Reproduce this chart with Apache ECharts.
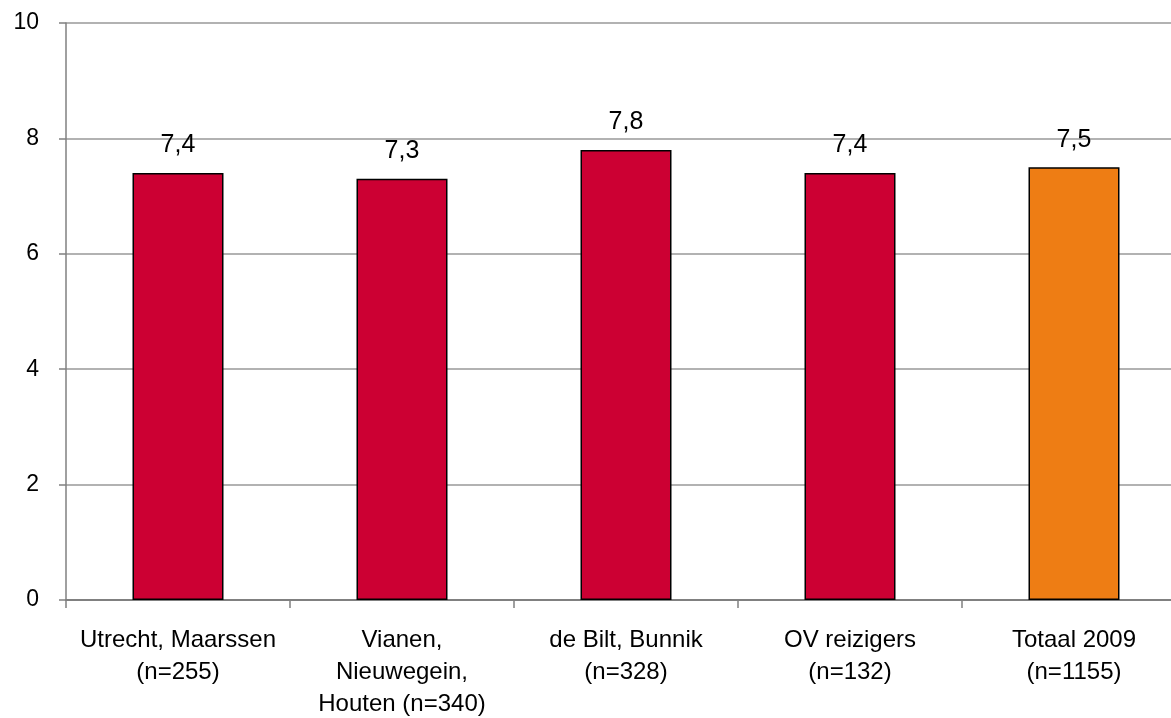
<!DOCTYPE html>
<html><head><meta charset="utf-8">
<script src="https://cdn.jsdelivr.net/npm/echarts@6/dist/echarts.min.js"></script>
<style>html,body{margin:0;padding:0;background:#fff}#c{width:1171px;height:718px}</style>
</head><body><div id="c"></div>
<script>
const categories = ["Utrecht, Maarssen\n(n=255)", "Vianen,\nNieuwegein,\nHouten (n=340)", "de Bilt, Bunnik\n(n=328)", "OV reizigers\n(n=132)", "Totaal 2009\n(n=1155)"];
const values = [7.4, 7.3, 7.8, 7.4, 7.5];
const barColors = ["#CC0033", "#CC0033", "#CC0033", "#CC0033", "#EE7D14"];
const yTicks = { min: 0, max: 10, interval: 2 };

const chart = echarts.init(document.getElementById('c'));
chart.setOption({
  animation: false,
  backgroundColor: '#fff',
  grid: { left: 66, width: 1120, top: 23, height: 577, outerBoundsMode: 'none', containLabel: false },
  xAxis: {
    type: 'category',
    data: categories,
    axisLine: { lineStyle: { color: '#808080', width: 2 } },
    axisTick: { show: true, length: 8, alignWithLabel: false, lineStyle: { color: '#808080', width: 1.5 } },
    axisLabel: { color: '#000', fontFamily: 'Liberation Sans, Arial', fontSize: 24, lineHeight: 32, margin: 24, interval: 0 }
  },
  yAxis: {
    type: 'value',
    min: yTicks.min, max: yTicks.max, interval: yTicks.interval,
    axisLine: { show: true, lineStyle: { color: '#808080', width: 1.5 } },
    axisTick: { show: true, length: 7, lineStyle: { color: '#808080', width: 1.5 } },
    splitLine: { lineStyle: { color: '#999', width: 1.5 } },
    axisLabel: { color: '#000', fontFamily: 'Liberation Sans, Arial', fontSize: 23, margin: 27 }
  },
  series: [{
    type: 'bar',
    data: values.map((v, i) => ({ value: v, itemStyle: { color: barColors[i] } })),
    barWidth: 91,
    itemStyle: { borderColor: '#000', borderWidth: 1.5 },
    label: {
      show: true, position: 'top', distance: 15,
      color: '#000', fontFamily: 'Liberation Sans, Arial', fontSize: 25,
      formatter: p => String(p.value).replace('.', ',')
    }
  }]
});
</script></body></html>
